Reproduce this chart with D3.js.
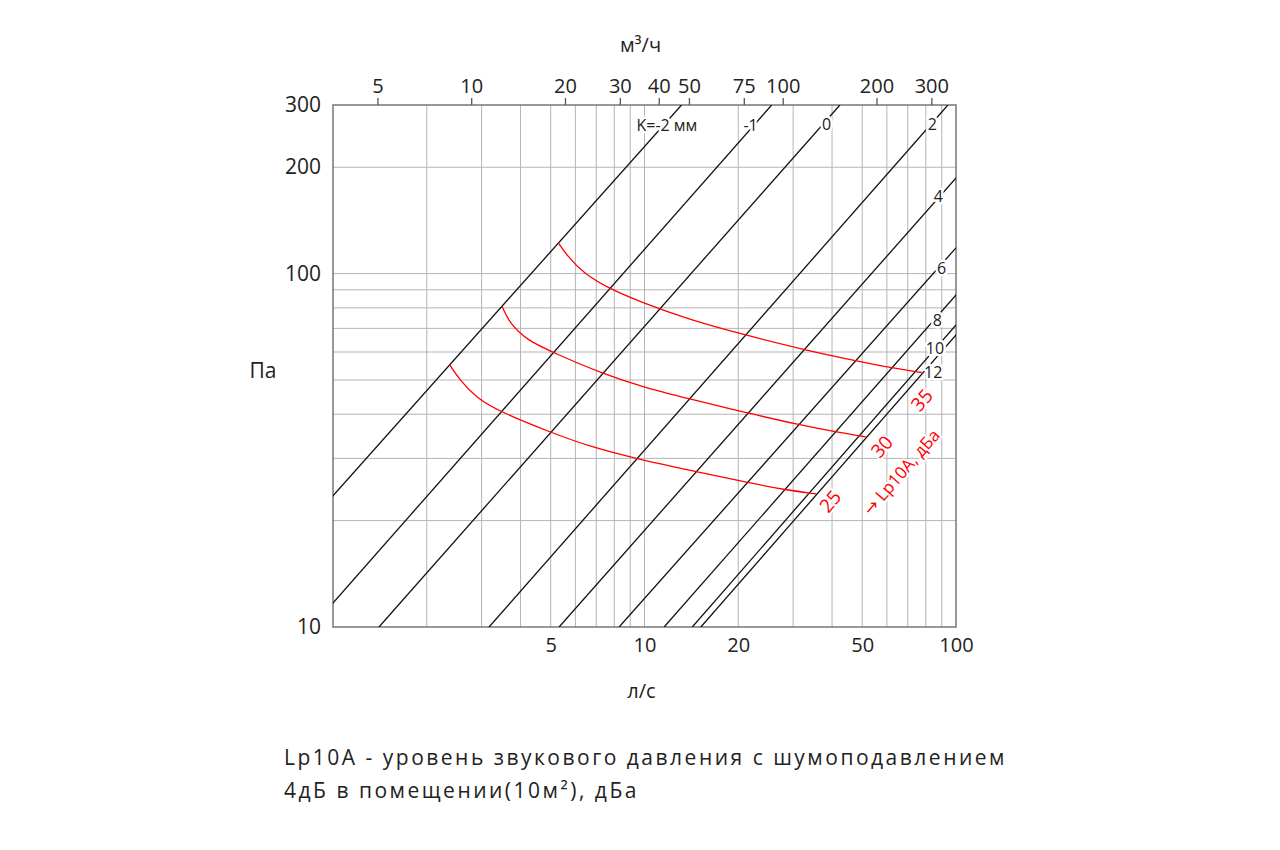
<!DOCTYPE html>
<html>
<head>
<meta charset="utf-8">
<script src="https://cdn.jsdelivr.net/npm/d3@7"></script>
<style>
  body { margin: 0; background: #fff; }
  text { font-family: "Open Sans", "DejaVu Sans", sans-serif; fill: #222; }
  .grid line { stroke: #b4b4b4; stroke-width: 1; }
  .kLine { stroke: #111; stroke-width: 1.3; fill: none; }
  .noiseLine { stroke: #ff0000; stroke-width: 1.3; fill: none; }
  .halo { paint-order: stroke; stroke: #fff; stroke-linejoin: round; }
</style>
</head>
<body>
<div id="chart"></div>
<script>
// DATA
// bottom axis, l/s
var flowTicks = [5, 10, 20, 50, 100];
// top axis, m3/h
var flowTicksTop = [5, 10, 20, 30, 40, 50, 75, 100, 200, 300];
// left axis, Pa
var pressureTicks = [10, 100, 200, 300];
var flowGrid = [2, 3, 4, 5, 6, 7, 8, 9, 10, 20, 30, 40, 50, 60, 70, 80, 90];
var pressureGrid = [20, 30, 40, 50, 60, 70, 80, 90, 100, 200];

// valve lines: flow (l/s) at 10 Pa and at 300 Pa
var kNames = ["K=-2 мм", "-1", "0", "2", "4", "6", "8", "10", "12"];
var kFlowAt10Pa = [0.421, 0.855, 1.405, 3.17, 5.32, 8.29, 11.56, 14.24, 15.17];
var kFlowAt300Pa = [13.15, 25.6, 42.4, 94.2, 161.1, 255.6, 343.6, 413.3, 441.5];
// where the K labels sit
var kLabelFlow = [11.8, 21.9, 38.4, 84.0, 87.7, 89.9, 87.1, 85.6, 84.5];
var kLabelPressure = [263, 263, 265, 265, 165.9, 103.6, 74.0, 61.5, 52.8];

// noise curves Lp10A
var noiseNames = ["25", "30", "35"];
var noise25Flow = [2.37, 2.55, 2.89, 3.47, 4.97, 6.67, 9.43, 15.06, 21.5, 28.6, 35.7];
var noise25Pressure = [55.2, 50.1, 44.4, 40.5, 35.6, 32.4, 29.9, 27.4, 25.6, 24.4, 23.8];
var noise30Flow = [3.49, 3.69, 4.18, 5.15, 7.36, 10.15, 15.06, 21.5, 31.5, 41.4, 51.3];
var noise30Pressure = [80.7, 72.4, 64.9, 59.5, 52.0, 47.4, 43.5, 40.3, 37.3, 35.6, 34.5];
var noise35Flow = [5.28, 5.62, 6.35, 7.74, 9.66, 13.98, 21.0, 32.7, 48.0, 62.9, 77.6];
var noise35Pressure = [122.4, 113.0, 100.3, 90.5, 83.3, 74.0, 67.1, 60.8, 56.6, 54.0, 52.5];
var noiseLabelFlow = [39.4, 57.7, 77.6];
var noiseLabelPressure = [22.7, 32.4, 43.9];
var noiseTitle = "→ Lp10A, дБа";
var noiseTitleFlow = 66.6, noiseTitlePressure = 27.5;

var captionLines = ["Lp10A - уровень звукового давления с шумоподавлением",
                    "4дБ в помещении(10м²), дБа"];

// SET UP
var margin = {top: 105, right: 324, bottom: 223, left: 333},
    width = 1280 - margin.left - margin.right,
    height = 850 - margin.top - margin.bottom;

var root = d3.select("#chart").append("svg")
    .attr("width", 1280)
    .attr("height", 850);

var svg = root.append("g")
    .attr("transform", "translate(" + margin.left + "," + margin.top + ")");

// scales
var xScale = d3.scaleLog().domain([1, 100]).range([0, width]);
var xTopScale = d3.scaleLog().domain([3.6, 360]).range([0, width]);   // 1 l/s = 3.6 m3/h
var yScale = d3.scaleLog().domain([10, 300]).range([height, 0]);

svg.append("clipPath").attr("id", "plotClip")
  .append("rect").attr("width", width).attr("height", height);

// GRID
svg.append("g").attr("class", "grid")
    .selectAll("line").data(flowGrid).join("line")
    .attr("x1", d => xScale(d)).attr("x2", d => xScale(d))
    .attr("y1", 0).attr("y2", height);

svg.append("g").attr("class", "grid")
    .selectAll("line").data(pressureGrid).join("line")
    .attr("x1", 0).attr("x2", width)
    .attr("y1", d => yScale(d)).attr("y2", d => yScale(d));

// frame
svg.append("rect")
    .attr("width", width).attr("height", height)
    .attr("fill", "none").attr("stroke", "#777").attr("stroke-width", 1.5);

// AXES
// top axis m3/h
var topAxis = svg.append("g")
    .call(d3.axisTop(xTopScale).tickValues(flowTicksTop).tickFormat(d3.format("d")).tickSize(7).tickPadding(5));
topAxis.select(".domain").remove();
topAxis.selectAll("line").attr("stroke", "#555").attr("stroke-width", 1.3);
topAxis.selectAll("text").attr("font-size", 20).attr("fill", "#222")
    .style("font-family", "'Open Sans', sans-serif");

// bottom axis l/s, labels only
var bottomAxis = svg.append("g")
    .attr("transform", "translate(0," + height + ")")
    .call(d3.axisBottom(xScale).tickValues(flowTicks).tickFormat(d3.format("d")).tickSize(0).tickPadding(11));
bottomAxis.select(".domain").remove();
bottomAxis.selectAll("text").attr("font-size", 20).attr("fill", "#222")
    .style("font-family", "'Open Sans', sans-serif");

// left axis Pa, labels only
var leftAxis = svg.append("g")
    .call(d3.axisLeft(yScale).tickValues(pressureTicks).tickFormat(d3.format("d")).tickSize(0).tickPadding(12));
leftAxis.select(".domain").remove();
leftAxis.selectAll("text").attr("font-size", 21).attr("fill", "#222")
    .style("font-family", "'Open Sans', sans-serif");

// axis titles
svg.append("text")
    .attr("x", width / 2 - 4).attr("y", -61)
    .attr("text-anchor", "middle").attr("dominant-baseline", "central")
    .attr("font-size", 20)
    .text("м³/ч");

svg.append("text")
    .attr("x", width / 2 - 3).attr("y", height + 63)
    .attr("text-anchor", "middle").attr("dominant-baseline", "central")
    .attr("font-size", 20)
    .text("л/с");

svg.append("text")
    .attr("x", -70).attr("y", height / 2 + 4)
    .attr("text-anchor", "middle").attr("dominant-baseline", "central")
    .attr("font-size", 21)
    .text("Па");

// VALVE LINES
var plot = svg.append("g").attr("clip-path", "url(#plotClip)");

plot.append("g")
    .selectAll("line").data(kNames).join("line")
    .attr("class", "kLine")
    .attr("x1", (d, i) => xScale(kFlowAt10Pa[i]))
    .attr("y1", yScale(10))
    .attr("x2", (d, i) => xScale(kFlowAt300Pa[i]))
    .attr("y2", yScale(300));

// NOISE CURVES
var noiseSeries = [
    noise25Flow.map((q, i) => [q, noise25Pressure[i]]),
    noise30Flow.map((q, i) => [q, noise30Pressure[i]]),
    noise35Flow.map((q, i) => [q, noise35Pressure[i]])
];

// basis smooths the hand-read points but still starts/ends on them
var noiseLine = d3.line()
    .x(d => xScale(d[0]))
    .y(d => yScale(d[1]))
    .curve(d3.curveBasis);

plot.append("g")
    .selectAll("path").data(noiseSeries).join("path")
    .attr("class", "noiseLine")
    .attr("d", noiseLine);

// LABELS
// K labels knock out the lines behind them
svg.append("g")
    .selectAll("text").data(kNames).join("text")
    .attr("class", "halo")
    .attr("stroke-width", 5)
    .attr("x", (d, i) => xScale(kLabelFlow[i]))
    .attr("y", (d, i) => yScale(kLabelPressure[i]))
    .attr("text-anchor", "middle").attr("dominant-baseline", "central")
    .attr("font-size", 16)
    .text(d => d);

// red Lp10A labels, rotated along the lines
var lineAngle = -49;

svg.append("g")
    .selectAll("text").data(noiseNames).join("text")
    .attr("class", "halo")
    .attr("stroke-width", 4)
    .attr("transform", (d, i) => "translate(" + xScale(noiseLabelFlow[i]) + "," + yScale(noiseLabelPressure[i]) + ") rotate(" + lineAngle + ")")
    .attr("text-anchor", "middle").attr("dominant-baseline", "central")
    .attr("font-size", 19)
    .style("fill", "#ff0000")
    .text(d => d);

svg.append("text")
    .attr("class", "halo")
    .attr("stroke-width", 4)
    .attr("transform", "translate(" + xScale(noiseTitleFlow) + "," + yScale(noiseTitlePressure) + ") rotate(" + lineAngle + ")")
    .attr("text-anchor", "middle").attr("dominant-baseline", "central")
    .attr("font-size", 17)
    .style("fill", "#ff0000")
    .text(noiseTitle);

// CAPTION
// the original face is much wider, so open the letters up a bit
root.append("g")
    .selectAll("text").data(captionLines).join("text")
    .attr("x", 284)
    .attr("y", (d, i) => 765 + i * 33)
    .attr("font-size", 21)
    .attr("letter-spacing", 2.5)
    .text(d => d);
</script>
</body>
</html>
